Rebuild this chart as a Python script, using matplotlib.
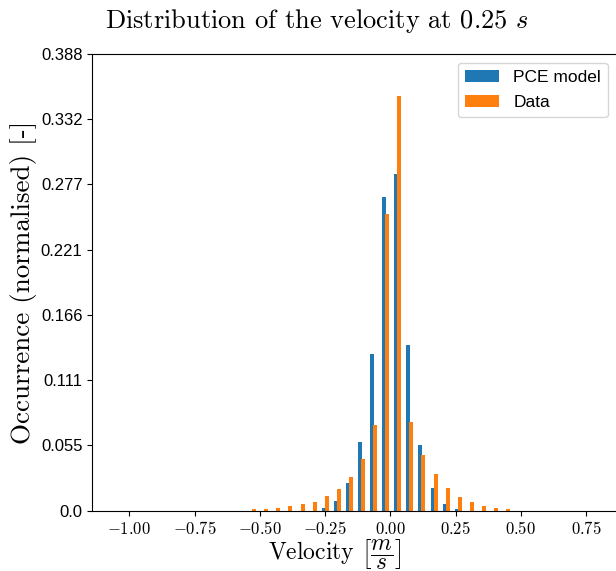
import numpy as np
import matplotlib
matplotlib.use("Agg")
import matplotlib.pyplot as plt

plt.rcParams["mathtext.fontset"] = "cm"

# Histogram bins (velocity, m/s) shared by both series
bin_edges = np.linspace(-0.5507, 0.4690, 23)

# Normalised occurrence per bin
pce_model = [0.0, 0.0, 0.0, 0.0, 0.0, 0.0,
             0.0025, 0.0085, 0.0235, 0.0586, 0.1330, 0.2663,
             0.2861, 0.1408, 0.0558, 0.0193, 0.0057, 0.0014,
             0.0, 0.0, 0.0, 0.0]
data = [0.0017, 0.0017, 0.0025, 0.0042, 0.0060, 0.0076,
        0.0127, 0.0187, 0.0289, 0.0442, 0.0731, 0.2521,
        0.3524, 0.0754, 0.0473, 0.0312, 0.0193, 0.0116,
        0.0074, 0.0040, 0.0023, 0.0014]

x_ticks = [-1.00, -0.75, -0.50, -0.25, 0.00, 0.25, 0.50, 0.75]
y_top = 1.1 * max(data)
y_ticks = np.linspace(0, y_top, 8)
y_ticklabels = ["0.0", "0.055", "0.111", "0.166", "0.221", "0.277", "0.332", "0.388"]

W, H = 616, 571
fig = plt.figure(figsize=(W / 100, H / 100), dpi=100)
ax = fig.add_axes([92.3 / W, (H - 510.7) / H, (616.5 - 92.3) / W, (510.7 - 54) / H])

centers = 0.5 * (bin_edges[:-1] + bin_edges[1:])
w = bin_edges[1] - bin_edges[0]
ax.bar(centers - 0.29 * w, pce_model, width=0.33 * w, align="edge",
       color="#1f77b4", label="PCE model")
ax.bar(centers - 0.04 * w, data, width=0.33 * w, align="edge",
       color="#ff7f0e", label="Data")

ax.set_xlim(-1.1419, 0.8668)
ax.set_ylim(0, y_top)
ax.set_xticks(x_ticks)
ax.set_xticklabels([r"$%.2f$" % v for v in x_ticks], fontsize=12)
ax.set_yticks(y_ticks)
ax.set_yticklabels(y_ticklabels, family="Liberation Sans", fontsize=12)
ax.spines["right"].set_visible(False)

ax.set_title(r"Distribution of the velocity at 0.25 $s$", family="cmr10",
             fontsize=19, x=0.429, pad=19)
ax.set_xlabel(r"Velocity $\left[\dfrac{m}{s}\right]$", family="cmr10",
              fontsize=17, x=0.4615, labelpad=-1)
ax.set_ylabel("Occurrence (normalised) [-]", family="cmr10", fontsize=19.5,
              labelpad=3)

ax.legend(loc="upper right", prop={"family": "Liberation Sans", "size": 12.5},
          labelspacing=0.6)

fig.savefig("out.png", dpi=100)
